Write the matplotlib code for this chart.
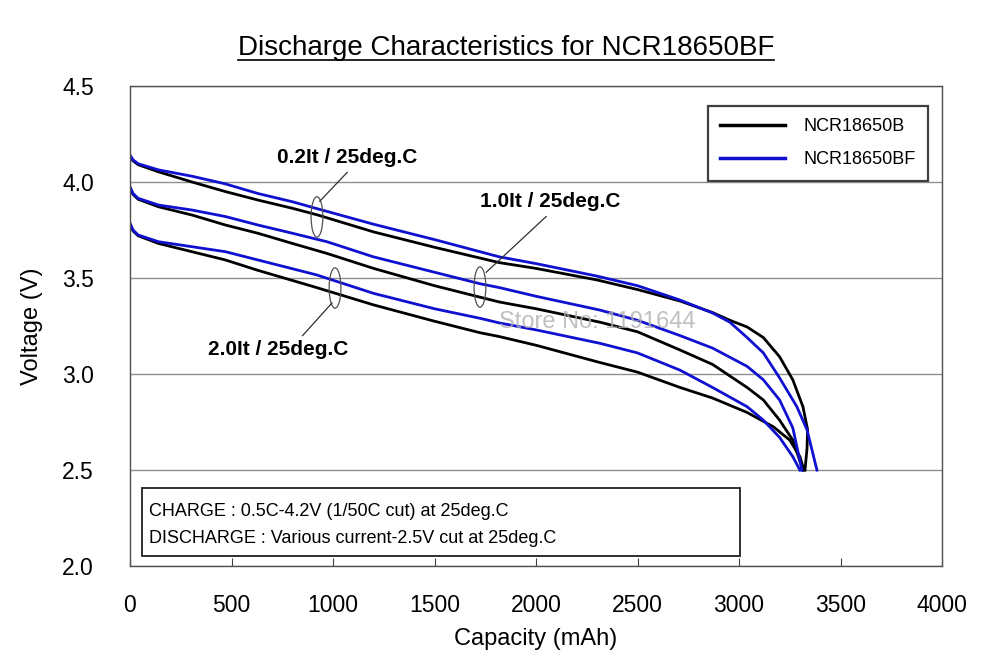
import matplotlib
matplotlib.use("Agg")
from matplotlib import pyplot as plt
from matplotlib.patches import Ellipse, Rectangle
from matplotlib.lines import Line2D

plt.rcParams["font.family"] = ["Liberation Sans", "DejaVu Sans"]

# capacity (mAh) / voltage (V)
cap_02_bf = [0, 15, 40, 140, 305, 470, 630, 800, 925, 1200, 1500, 1820, 2000, 2300, 2500,
             2710, 2870, 2955, 3040, 3120, 3200, 3285, 3335, 3384]
volt_02_bf = [4.14, 4.115, 4.095, 4.063, 4.03, 3.99, 3.94, 3.897, 3.86, 3.78, 3.70, 3.61, 3.575, 3.51, 3.46,
              3.385, 3.318, 3.27, 3.19, 3.11, 2.98, 2.83, 2.71, 2.5]

cap_02_b = [0, 15, 40, 140, 305, 470, 630, 800, 925, 1200, 1500, 1820, 2000, 2300, 2500,
            2710, 2870, 2955, 3040, 3120, 3200, 3265, 3315, 3338, 3335, 3325]
volt_02_b = [4.13, 4.11, 4.09, 4.053, 4.0, 3.95, 3.906, 3.863, 3.828, 3.74, 3.66, 3.58, 3.55, 3.49, 3.44,
             3.38, 3.32, 3.28, 3.245, 3.19, 3.09, 2.97, 2.83, 2.71, 2.61, 2.5]

cap_10_bf = [0, 15, 40, 140, 305, 470, 630, 800, 970, 1200, 1500, 1725, 1820, 2000, 2315, 2500,
             2710, 2870, 3040, 3120, 3200, 3265, 3310]
volt_10_bf = [3.975, 3.94, 3.915, 3.88, 3.854, 3.82, 3.776, 3.733, 3.689, 3.61, 3.53, 3.47, 3.45, 3.405, 3.333, 3.28,
              3.20, 3.135, 3.04, 2.97, 2.865, 2.72, 2.5]

cap_10_b = [0, 15, 40, 140, 305, 470, 630, 800, 970, 1200, 1500, 1725, 1820, 2000, 2315, 2500,
            2710, 2870, 3040, 3120, 3200, 3265, 3315]
volt_10_b = [3.97, 3.935, 3.91, 3.871, 3.828, 3.776, 3.733, 3.68, 3.628, 3.55, 3.46, 3.40, 3.375, 3.34, 3.27, 3.22,
             3.125, 3.05, 2.93, 2.865, 2.76, 2.656, 2.5]

cap_20_bf = [0, 15, 40, 140, 305, 470, 630, 920, 1200, 1500, 1725, 1820, 2000, 2315, 2500,
             2710, 2870, 3040, 3120, 3200, 3265, 3300]
volt_20_bf = [3.785, 3.75, 3.724, 3.689, 3.663, 3.637, 3.594, 3.516, 3.42, 3.34, 3.29, 3.266, 3.23, 3.16, 3.11,
              3.02, 2.93, 2.83, 2.76, 2.67, 2.57, 2.5]

cap_20_b = [0, 15, 40, 140, 305, 470, 630, 920, 1200, 1500, 1725, 1820, 2000, 2315, 2500,
            2710, 2870, 3040, 3170, 3250, 3300, 3320]
volt_20_b = [3.78, 3.745, 3.72, 3.68, 3.637, 3.594, 3.54, 3.45, 3.36, 3.275, 3.215, 3.195, 3.15, 3.06, 3.01,
             2.93, 2.875, 2.80, 2.725, 2.656, 2.57, 2.5]

x_ticks = [0, 500, 1000, 1500, 2000, 2500, 3000, 3500, 4000]
y_ticks = [2.0, 2.5, 3.0, 3.5, 4.0, 4.5]

# rate labels: text, text position, ellipse centre, leader line start / end
rate_labels = ["0.2It / 25deg.C", "1.0It / 25deg.C", "2.0It / 25deg.C"]
label_pos = [(1070, 4.13), (2070, 3.90), (730, 3.13)]
ellipse_pos = [(921, 3.818), (1724, 3.453), (1010, 3.448)]
leader_start = [(935, 3.90), (1755, 3.53), (995, 3.37)]
leader_end = [(1070, 4.05), (2050, 3.82), (850, 3.20)]

fig = plt.figure(figsize=(10, 6.56), dpi=100)
ax = fig.add_axes([0.13, 0.137, 0.812, 0.732])

lw = 2.0
ax.plot(cap_02_b, volt_02_b, color="black", lw=lw, label="NCR18650B")
ax.plot(cap_10_b, volt_10_b, color="black", lw=lw)
ax.plot(cap_20_b, volt_20_b, color="black", lw=lw)
ax.plot(cap_02_bf, volt_02_bf, color="#1010d0", lw=lw, label="NCR18650BF")
ax.plot(cap_10_bf, volt_10_bf, color="#1010d0", lw=lw)
ax.plot(cap_20_bf, volt_20_bf, color="#1010d0", lw=lw)

ax.set_xlim(0, 4000)
ax.set_ylim(2.0, 4.5)
ax.set_xticks(x_ticks)
ax.set_yticks(y_ticks)
ax.set_yticklabels([f"{v:.1f}" for v in y_ticks])
ax.yaxis.grid(True, color="#909090", lw=1)
ax.set_axisbelow(True)
ax.tick_params(axis="x", direction="in", length=6, pad=20, labelsize=16.5, color="#404040")
ax.tick_params(axis="y", length=0, pad=26, labelsize=16.5)
for s in ax.spines.values():
    s.set_color("#505050")
    s.set_linewidth(1)

ax.set_xlabel("Capacity (mAh)", fontsize=17, labelpad=8)
ax.set_ylabel("Voltage (V)", fontsize=17, labelpad=14)

for text, tpos, epos, ls, le in zip(rate_labels, label_pos, ellipse_pos, leader_start, leader_end):
    ax.add_patch(Ellipse(epos, 58, 0.21, fill=False, ec="#505050", lw=0.9, zorder=5))
    ax.plot([ls[0], le[0]], [ls[1], le[1]], color="#303030", lw=0.9, zorder=5)
    ax.text(tpos[0], tpos[1], text, fontsize=15, fontweight="bold", ha="center", va="center")

leg = ax.legend(loc="upper right", bbox_to_anchor=(0.994, 0.978), fontsize=13,
                handlelength=3.6, handletextpad=1.0, borderpad=0.7, labelspacing=0.9,
                fancybox=False, framealpha=1)
leg.get_frame().set_edgecolor("#404040")
leg.get_frame().set_linewidth(1.6)
for h in leg.get_lines():
    h.set_linewidth(2.5)

ax.add_patch(Rectangle((0.015, 0.021), 0.736, 0.142, transform=ax.transAxes,
                       fill=True, fc="white", ec="#202020", lw=1.3, zorder=6))
ax.text(0.023, 0.113, "CHARGE : 0.5C-4.2V (1/50C cut) at 25deg.C", transform=ax.transAxes,
        fontsize=13, va="center", ha="left", zorder=7)
ax.text(0.023, 0.058, "DISCHARGE : Various current-2.5V cut at 25deg.C", transform=ax.transAxes,
        fontsize=13, va="center", ha="left", zorder=7)

ax.text(2300, 3.27, "Store No: 1191644", fontsize=17, color="#b0b0b0", alpha=0.8,
        ha="center", va="center", zorder=8)

title = fig.text(0.506, 0.927, "Discharge Characteristics for NCR18650BF", fontsize=20,
                 ha="center", va="center")
fig.canvas.draw()
bb = title.get_window_extent().transformed(fig.transFigure.inverted())
fig.add_artist(Line2D([bb.x0, bb.x1], [bb.y0 + 0.002, bb.y0 + 0.002], color="black", lw=1.2))

fig.savefig("out.png", dpi=100)
